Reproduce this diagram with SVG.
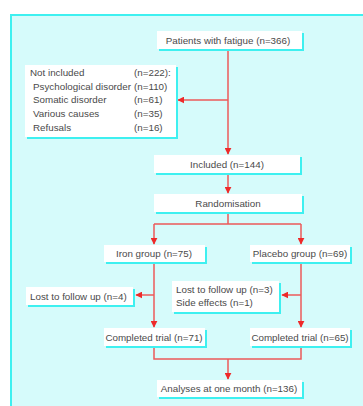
<svg xmlns="http://www.w3.org/2000/svg" width="363" height="406" viewBox="0 0 363 406">
<defs>
<style>
.bg{fill:#d6fbfb}
.frame{fill:none;stroke:#3ef0f0;stroke-width:2}
.sh{fill:#3ef0f0}
.bx{fill:#ffffff}
text{font-family:"Liberation Sans",Arial,sans-serif;font-size:9.8px;fill:#4a4a4a}
.c{text-anchor:middle}
.ln{fill:none;stroke:#ec5a5a;stroke-width:1.5}
</style>
<marker id="ah" viewBox="0 0 10 10" refX="9" refY="5" markerWidth="7" markerHeight="7" markerUnits="userSpaceOnUse" orient="auto">
<path d="M0,0 L10,5 L0,10 z" fill="#ee2a2a"/>
</marker>
</defs>
<rect x="0" y="0" width="363" height="406" fill="#ffffff"/>
<rect class="bg" x="11" y="15" width="352" height="391"/>
<path class="frame" d="M11,406 V15 H363"/>

<g id="connectors">
<path class="ln" d="M228,49 V154" marker-end="url(#ah)"/>
<path class="ln" d="M228,100 H178" marker-end="url(#ah)"/>
<path class="ln" d="M228,173 V193" marker-end="url(#ah)"/>
<path class="ln" d="M228,212 V224 M154,224 H301"/>
<path class="ln" d="M154,224 V244" marker-end="url(#ah)"/>
<path class="ln" d="M301,224 V244" marker-end="url(#ah)"/>
<path class="ln" d="M154,262 V327" marker-end="url(#ah)"/>
<path class="ln" d="M301,262 V327" marker-end="url(#ah)"/>
<path class="ln" d="M154,295 H136" marker-end="url(#ah)"/>
<path class="ln" d="M301,295 H282" marker-end="url(#ah)"/>
<path class="ln" d="M154,346 V359 H301 V346"/>
<path class="ln" d="M228,359 V379" marker-end="url(#ah)"/>
</g>

<g id="patients">
<rect class="sh" x="159" y="33" width="145" height="18"/>
<rect class="bx" x="157" y="31" width="145" height="18"/>
<text class="c" x="228" y="43.5">Patients with fatigue (n=366)</text>
</g>
<g id="not-included">
<rect class="sh" x="27" y="67" width="151" height="72"/>
<rect class="bx" x="25" y="65" width="151" height="72"/>
<text x="30" y="75.5">Not included</text><text x="134" y="75.5">(n=222):</text>
<text x="33" y="89.5">Psychological disorder</text><text x="134" y="89.5">(n=110)</text>
<text x="33" y="103">Somatic disorder</text><text x="134" y="103">(n=61)</text>
<text x="33" y="117">Various causes</text><text x="134" y="117">(n=35)</text>
<text x="33" y="131">Refusals</text><text x="134" y="131">(n=16)</text>
</g>
<g id="included">
<rect class="sh" x="156" y="157" width="146" height="18"/>
<rect class="bx" x="154" y="155" width="146" height="18"/>
<text class="c" x="227" y="167.5">Included (n=144)</text>
</g>
<g id="randomisation">
<rect class="sh" x="156" y="196" width="148" height="18"/>
<rect class="bx" x="154" y="194" width="148" height="18"/>
<text class="c" x="228" y="206.5">Randomisation</text>
</g>
<g id="iron">
<rect class="sh" x="106" y="247" width="101" height="17"/>
<rect class="bx" x="104" y="245" width="101" height="17"/>
<text class="c" x="154" y="257">Iron group (n=75)</text>
</g>
<g id="placebo">
<rect class="sh" x="252" y="247" width="100" height="17"/>
<rect class="bx" x="250" y="245" width="100" height="17"/>
<text class="c" x="300" y="257">Placebo group (n=69)</text>
</g>
<g id="lost-iron">
<rect class="sh" x="28" y="289" width="107" height="18"/>
<rect class="bx" x="26" y="287" width="107" height="18"/>
<text x="30" y="299.5">Lost to follow up (n=4)</text>
</g>
<g id="lost-placebo">
<rect class="sh" x="174" y="283" width="107" height="31"/>
<rect class="bx" x="172" y="281" width="107" height="31"/>
<text x="176" y="292.5">Lost to follow up (n=3)</text>
<text x="176" y="305.5">Side effects (n=1)</text>
</g>
<g id="completed-iron">
<rect class="sh" x="106" y="330" width="101" height="18"/>
<rect class="bx" x="104" y="328" width="101" height="18"/>
<text class="c" x="154" y="340.5">Completed trial (n=71)</text>
</g>
<g id="completed-placebo">
<rect class="sh" x="252" y="330" width="100" height="18"/>
<rect class="bx" x="250" y="328" width="100" height="18"/>
<text class="c" x="300" y="340.5">Completed trial (n=65)</text>
</g>
<g id="analyses">
<rect class="sh" x="159" y="382" width="145" height="17"/>
<rect class="bx" x="157" y="380" width="145" height="17"/>
<text class="c" x="229" y="392">Analyses at one month (n=136)</text>
</g>
</svg>
